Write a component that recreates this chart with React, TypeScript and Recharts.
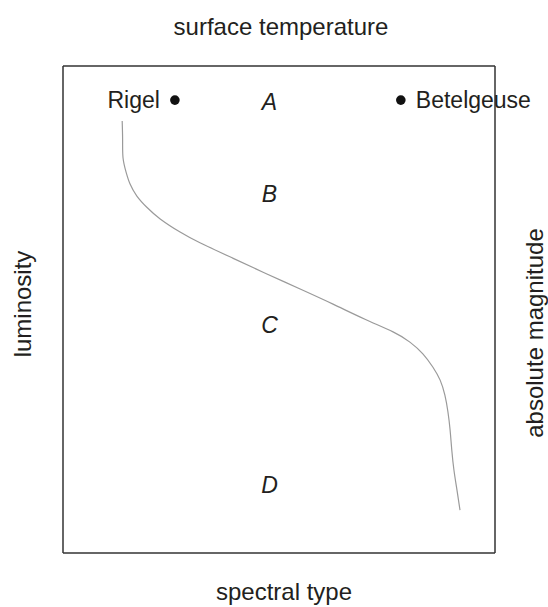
import { ComposedChart, Line, Scatter, XAxis, YAxis, Label } from 'recharts';

// curve through the diagram (spectral type 0-100, luminosity 0-100)
const curveX = [13.7, 13.8, 13.9, 14.6, 15.5, 17.1, 19.4, 22.5, 27.1, 31.7, 39.4, 47.2, 54.9, 62.5, 69.9, 76.4, 80.3, 83.3, 85.6, 87.3, 88.4, 89.1, 89.6, 90.0, 90.5, 91.2, 91.9];
const curveY = [88.7, 84.8, 81.1, 78.2, 75.8, 73.3, 71.0, 68.6, 65.9, 63.7, 60.5, 57.3, 54.2, 51.1, 48.0, 45.4, 43.3, 40.9, 38.2, 35.5, 32.4, 29.0, 25.3, 21.1, 17.0, 12.9, 8.8];

const starNames = ['Rigel', 'Betelgeuse'];
const starX = [25.9, 78.2];
const starY = [93.0, 93.0];

const regionLabels = ['A', 'B', 'C', 'D'];
const regionX = [47.8, 47.8, 47.8, 47.8];
const regionY = [92.7, 73.7, 46.8, 14.0];

const curve = curveX.map((x, i) => ({ x, y: curveY[i] }));
const stars = starNames.map((name, i) => ({ name, x: starX[i], y: starY[i] }));
const regions = regionLabels.map((name, i) => ({ name, x: regionX[i], y: regionY[i] }));

const FONT = '"Liberation Sans", Arial, Helvetica, sans-serif';
const TEXT = '#231f20';
const BOX = '#333';

const StarShape = (props: any) => {
  const { cx, cy, payload } = props;
  const left = payload.name === 'Rigel';
  return (
    <g>
      <circle cx={cx} cy={cy} r={4.8} fill="#111" />
      <text
        x={left ? cx - 15 : cx + 15}
        y={cy + 8}
        textAnchor={left ? 'end' : 'start'}
        fontSize={23}
        fontFamily={FONT}
        fill={TEXT}
      >
        {payload.name}
      </text>
    </g>
  );
};

const RegionShape = (props: any) => {
  const { cx, cy, payload } = props;
  return (
    <text
      x={cx}
      y={cy + 8}
      textAnchor="middle"
      fontSize={23}
      fontStyle="italic"
      fontFamily={FONT}
      fill={TEXT}
    >
      {payload.name}
    </text>
  );
};

const textProps = { fontSize: 24, fontFamily: FONT, fill: TEXT };

export default function App() {
  return (
    <div style={{ position: 'absolute', left: 0, top: 0, background: '#fff' }}>
      <ComposedChart width={548} height={607} margin={{ top: 0, right: 0, bottom: 0, left: 0 }}>
        <XAxis
          xAxisId="b"
          type="number"
          dataKey="x"
          domain={[0, 100]}
          height={54}
          tick={false}
          tickLine={false}
          axisLine={{ stroke: BOX, strokeWidth: 1.5 }}
        >
          <Label
            content={() => (
              <text x={284} y={600} textAnchor="middle" {...textProps}>
                spectral type
              </text>
            )}
          />
        </XAxis>
        <XAxis
          xAxisId="t"
          orientation="top"
          type="number"
          domain={[0, 100]}
          height={66}
          tick={false}
          tickLine={false}
          axisLine={{ stroke: BOX, strokeWidth: 1.5 }}
        >
          <Label
            content={() => (
              <text x={281} y={35} textAnchor="middle" {...textProps}>
                surface temperature
              </text>
            )}
          />
        </XAxis>
        <YAxis
          yAxisId="l"
          type="number"
          domain={[0, 100]}
          width={63}
          tick={false}
          tickLine={false}
          axisLine={{ stroke: BOX, strokeWidth: 1.5 }}
        >
          <Label
            content={() => (
              <text x={31} y={304} textAnchor="middle" transform="rotate(-90, 31, 304)" {...textProps}>
                luminosity
              </text>
            )}
          />
        </YAxis>
        <YAxis
          yAxisId="r"
          orientation="right"
          type="number"
          domain={[0, 100]}
          width={53}
          tick={false}
          tickLine={false}
          axisLine={{ stroke: BOX, strokeWidth: 1.5 }}
        >
          <Label
            content={() => (
              <text x={543} y={333} textAnchor="middle" transform="rotate(-90, 543, 333)" {...textProps}>
                absolute magnitude
              </text>
            )}
          />
        </YAxis>
        <Line
          xAxisId="b"
          yAxisId="l"
          data={curve}
          dataKey="y"
          type="natural"
          stroke="#9a9a9a"
          strokeWidth={1.2}
          dot={false}
          activeDot={false}
          isAnimationActive={false}
        />
        <Scatter xAxisId="b" yAxisId="l" data={stars} dataKey="y" shape={StarShape} isAnimationActive={false} />
        <Scatter xAxisId="b" yAxisId="l" data={regions} dataKey="y" shape={RegionShape} isAnimationActive={false} />
      </ComposedChart>
    </div>
  );
}
